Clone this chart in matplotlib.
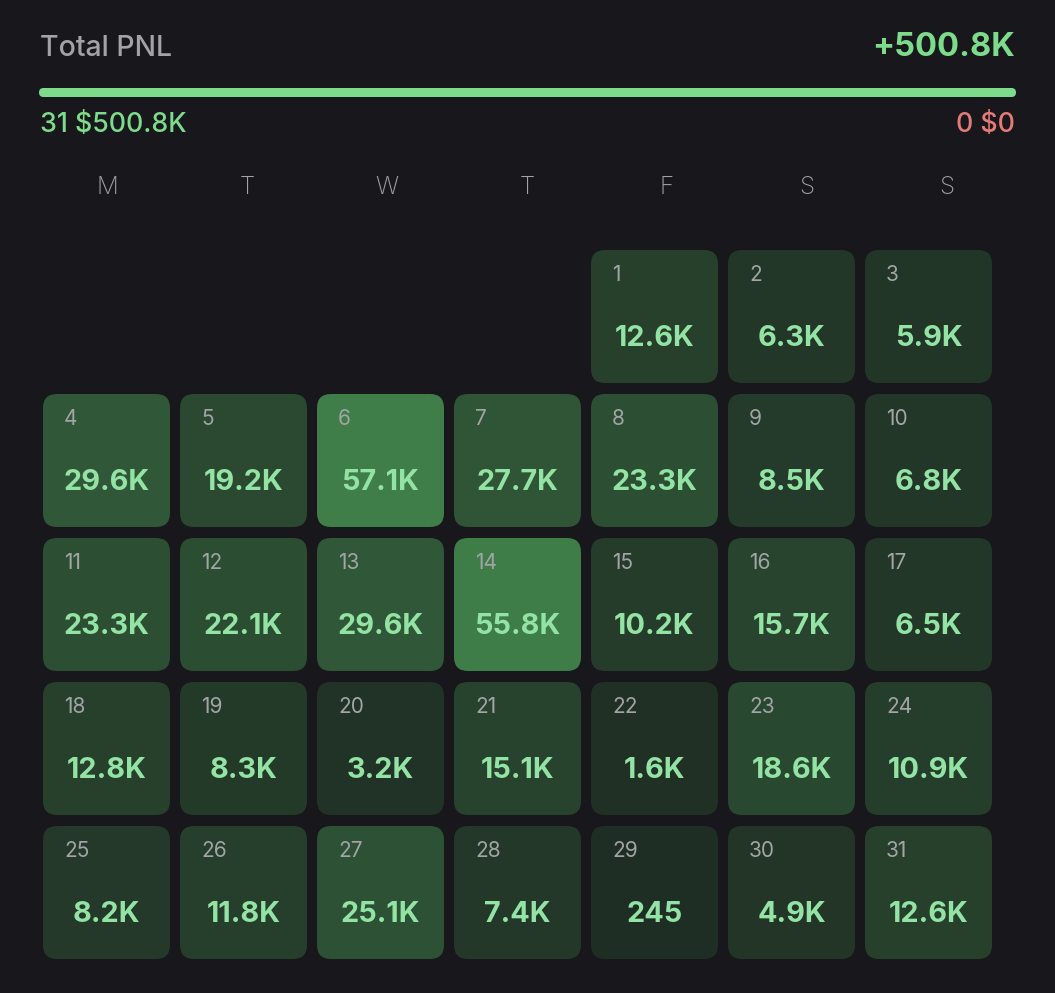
import matplotlib
matplotlib.use("Agg")
import matplotlib.pyplot as plt
from matplotlib.patches import FancyBboxPatch
from matplotlib.colors import LinearSegmentedColormap, Normalize

# ---- data ----
weekdays = ["M", "T", "W", "T", "F", "S", "S"]
days = list(range(1, 32))
first_weekday = 4  # month starts on Friday
pnl = [12600, 6300, 5900, 29600, 19200, 57100, 27700, 23300, 8500, 6800,
       23300, 22100, 29600, 55800, 10200, 15700, 6500, 12800, 8300, 3200,
       15100, 1600, 18600, 10900, 8200, 11800, 25100, 7400, 245, 4900, 12600]
total_label = "+500.8K"
win_label = "31 $500.8K"
loss_label = "0 $0"
title = "Total PNL"

BG = "#18171c"
FONT = ["Inter", "DejaVu Sans"]

def fmt(v):
    return f"{v:.0f}" if v < 1000 else f"{v/1000:.1f}K"

W, H = 1055, 993
fig = plt.figure(figsize=(W / 100, H / 100), dpi=100, facecolor=BG)
ax = fig.add_axes([0, 0, 1, 1])
ax.set_xlim(0, W)
ax.set_ylim(H, 0)
ax.axis("off")
ax.set_facecolor(BG)

# header
ax.text(40, 48, title, color="#a3a3a6", fontsize=20.5, family=FONT,
        fontweight="medium", va="center", ha="left")
ax.text(1015, 47, total_label, color="#7ddc8c", fontsize=23.5, family=FONT,
        fontweight="bold", va="center", ha="right")

# progress bar
ax.add_patch(FancyBboxPatch((39, 88), 977, 9,
                            boxstyle="round,pad=0,rounding_size=4.5",
                            facecolor="#7ddc8c", edgecolor="none"))
ax.text(40, 125, win_label, color="#7ddc8c", fontsize=19.3, family=FONT,
        fontweight="medium", va="center", ha="left")
ax.text(1015, 125, loss_label, color="#e47b78", fontsize=19.3, family=FONT,
        fontweight="medium", va="center", ha="right")

# grid geometry
x0, y0 = 43, 250
pitch_x, pitch_y = 137, 144
cw, ch = 127, 133

# weekday header
hx0, hpitch = 107, 140
for i, wd in enumerate(weekdays):
    ax.text(hx0 + i * hpitch, 188, wd, color="#a3a3a6", fontsize=17.5,
            family=FONT, fontweight="light", va="center", ha="center")

cmap = LinearSegmentedColormap.from_list("pnl", ["#1f2e24", "#3f7e49"])
norm = Normalize(0, max(pnl))

for d, v in zip(days, pnl):
    idx = first_weekday + d - 1
    col, row = idx % 7, idx // 7
    x = x0 + col * pitch_x
    y = y0 + row * pitch_y
    ax.add_patch(FancyBboxPatch((x, y), cw, ch,
                                boxstyle="round,pad=0,rounding_size=14",
                                facecolor=cmap(norm(v)), edgecolor="none"))
    ax.text(x + 21, y + 25, str(d), color="#a2a4a6", fontsize=15,
            family=FONT, va="center", ha="left")
    ax.text(x + cw / 2, y + 88, fmt(v), color="#93e3a4", fontsize=20.8,
            family=FONT, fontweight="bold", va="center", ha="center")

fig.savefig("out.png", dpi=100, facecolor=BG)
